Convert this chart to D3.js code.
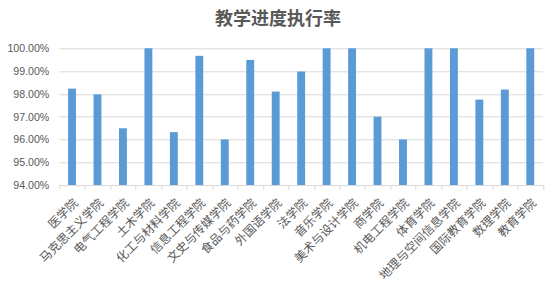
<!DOCTYPE html>
<html>
<head>
<meta charset="utf-8">
<script src="https://cdn.jsdelivr.net/npm/d3@7"></script>
<style>
  html, body { margin: 0; padding: 0; background: #fff; }
  svg { display: block; }
</style>
</head>
<body>
<svg id="chart" width="555" height="289"></svg>
<script>
// Schedule completion rate per college
const colleges = [
  "医学院", "马克思主义学院", "电气工程学院", "土木学院", "化工与材料学院",
  "信息工程学院", "文史与传媒学院", "食品与药学院", "外国语学院", "法学院",
  "音乐学院", "美术与设计学院", "商学院", "机电工程学院", "体育学院",
  "地理与空间信息学院", "国际教育学院", "数理学院", "教育学院"
];
const rates = [
  98.23, 97.98, 96.49, 100.00, 96.32,
  99.67, 96.00, 99.49, 98.10, 98.98,
  100.00, 100.00, 97.00, 96.00, 100.00,
  100.00, 97.75, 98.19, 100.00
];
const yTicks = [94, 95, 96, 97, 98, 99, 100];
const title = "教学进度执行率";

const svg = d3.select("#chart");
const margin = { left: 59.3, right: 12, top: 48.3, bottom: 104 };
const W = 555, H = 289;
const plotW = W - margin.left - margin.right;
const plotH = H - margin.top - margin.bottom;

const x = d3.scaleBand().domain(colleges).range([0, plotW]).paddingInner(0.69).paddingOuter(0.345);
const xb = d3.scaleBand().domain(colleges).range([0, plotW]);
const y = d3.scaleLinear().domain([94, 100]).range([plotH, 0]);

const g = svg.append("g").attr("transform", `translate(${margin.left},${margin.top})`);

// Horizontal gridlines
g.append("g").selectAll("line").data(yTicks.slice(1)).join("line")
  .attr("x1", 0).attr("x2", plotW)
  .attr("y1", d => Math.round(y(d)) + 0.5).attr("y2", d => Math.round(y(d)) + 0.5)
  .attr("stroke", "#d9d9d9").attr("stroke-width", 1);

// Y axis labels
const yAxis = d3.axisLeft(y).tickValues(yTicks).tickFormat(d => d.toFixed(2) + "%").tickSize(0).tickPadding(10);
const ya = g.append("g").call(yAxis);
ya.select(".domain").remove();
ya.selectAll("text")
  .attr("fill", "#595959")
  .style("font-family", "'Liberation Sans', Arial, sans-serif")
  .style("font-size", "10.6px");

// Bars
g.append("g").selectAll("rect").data(colleges).join("rect")
  .attr("x", (d) => x(d))
  .attr("width", x.bandwidth())
  .attr("y", (d, i) => y(rates[i]))
  .attr("height", (d, i) => plotH - y(rates[i]))
  .attr("fill", "#5b9bd5");

// X axis baseline with boundary ticks
const base = g.append("g").attr("transform", `translate(0,${plotH})`);
base.append("line").attr("x1", 0).attr("x2", plotW).attr("y1", 0.5).attr("y2", 0.5)
  .attr("stroke", "#d9d9d9");
const bounds = colleges.map(c => xb(c)).concat([plotW]);
base.selectAll("line.tick").data(bounds).join("line").attr("class", "tick")
  .attr("x1", d => Math.round(d) + 0.5).attr("x2", d => Math.round(d) + 0.5)
  .attr("y1", 0).attr("y2", 5)
  .attr("stroke", "#d9d9d9");

// Rotated category labels
base.selectAll("text").data(colleges).join("text")
  .attr("transform", d => `translate(${xb(d) + xb.bandwidth() / 2},${12}) rotate(-45)`)
  .attr("text-anchor", "end")
  .attr("dy", "0.8em")
  .attr("fill", "#595959")
  .style("font-family", "'Noto Sans CJK SC', sans-serif")
  .style("font-size", "12px")
  .text(d => d);

// Title
svg.append("text")
  .attr("x", 278).attr("y", 25)
  .attr("text-anchor", "middle")
  .attr("fill", "#595959")
  .style("font-family", "'Noto Sans CJK SC', sans-serif")
  .style("font-size", "18px")
  .style("font-weight", "bold")
  .text(title);
</script>
</body>
</html>
